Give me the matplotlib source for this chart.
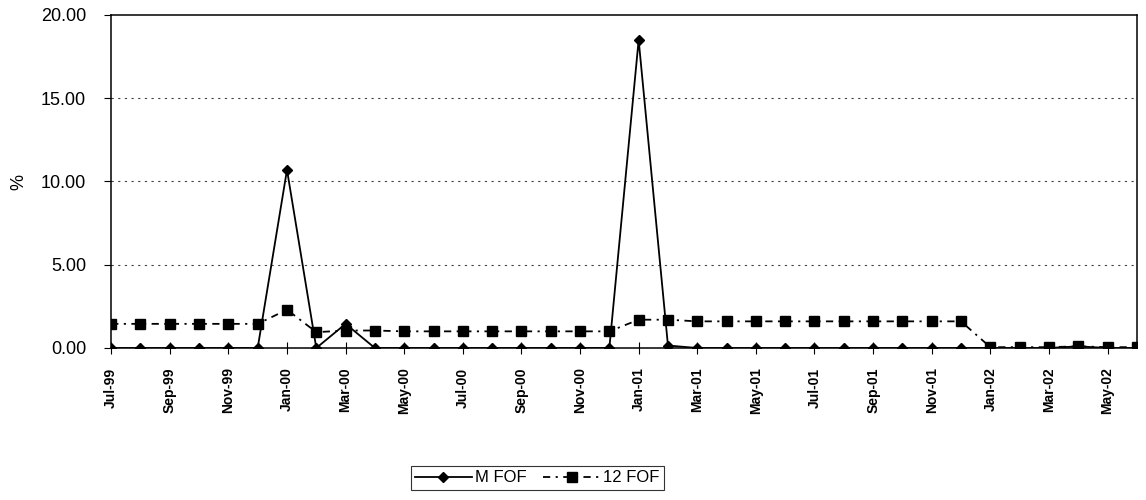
import numpy as np
import matplotlib
matplotlib.use("Agg")
import matplotlib.pyplot as plt
from matplotlib.ticker import FixedLocator, FormatStrFormatter

plt.rcParams['font.family'] = ['Liberation Sans', 'DejaVu Sans']

# Monthly observations, Jul-99 .. Jun-02
months = ["Jul-99", "Aug-99", "Sep-99", "Oct-99", "Nov-99", "Dec-99",
          "Jan-00", "Feb-00", "Mar-00", "Apr-00", "May-00", "Jun-00",
          "Jul-00", "Aug-00", "Sep-00", "Oct-00", "Nov-00", "Dec-00",
          "Jan-01", "Feb-01", "Mar-01", "Apr-01", "May-01", "Jun-01",
          "Jul-01", "Aug-01", "Sep-01", "Oct-01", "Nov-01", "Dec-01",
          "Jan-02", "Feb-02", "Mar-02", "Apr-02", "May-02", "Jun-02"]

m_fof = [0.0, 0.0, 0.0, 0.0, 0.0, 0.0,
         10.7, 0.0, 1.45, 0.0, 0.0, 0.0,
         0.0, 0.0, 0.0, 0.0, 0.0, 0.0,
         18.5, 0.15, 0.0, 0.0, 0.0, 0.0,
         0.0, 0.0, 0.0, 0.0, 0.0, 0.0,
         0.0, 0.0, 0.0, 0.1, 0.0, 0.0]

fof_12 = [1.45, 1.45, 1.45, 1.45, 1.45, 1.45,
          2.3, 0.95, 1.05, 1.05, 1.0, 1.0,
          1.0, 1.0, 1.0, 1.0, 1.0, 1.0,
          1.7, 1.7, 1.6, 1.6, 1.6, 1.6,
          1.6, 1.6, 1.6, 1.6, 1.6, 1.6,
          0.05, 0.05, 0.05, 0.1, 0.05, 0.05]

y_ticks = [0, 5, 10, 15, 20]

x = np.arange(len(months))

fig = plt.figure(figsize=(11.46, 5.0), dpi=100)
ax = fig.add_axes([0.097, 0.304, 0.895, 0.666])

ax.plot(x, m_fof, color="black", lw=1.3, marker="D", markersize=5.5,
        label="M FOF", zorder=3)
ax.plot(x, fof_12, color="black", lw=1.3, linestyle=(0, (4, 3, 1.2, 3)),
        marker="s", markersize=7, label="12 FOF", zorder=4)

ax.set_xlim(x[0], x[-1])
ax.set_ylim(y_ticks[0], y_ticks[-1])

ax.yaxis.set_major_locator(FixedLocator(y_ticks))
ax.yaxis.set_major_formatter(FormatStrFormatter("%.2f"))
ax.set_xticks(x[::2])
ax.set_xticklabels(months[::2], rotation=90, fontsize=10, fontweight="bold")
ax.tick_params(axis="x", direction="inout", length=8, width=0.8, pad=10)
ax.tick_params(axis="y", direction="out", length=5, width=0.8, labelsize=13, pad=13)

for v in y_ticks[1:-1]:
    ax.axhline(v, color="#444444", lw=0.8, linestyle=(0, (2, 4)), zorder=1)

for s in ax.spines.values():
    s.set_linewidth(1.1)
    s.set_color("black")

ax.set_ylabel("%", fontsize=13, labelpad=10)

leg = fig.legend(loc="center", bbox_to_anchor=(0.469, 0.044), ncol=2,
                 fontsize=12, frameon=True, fancybox=False, handlelength=3.4,
                 handletextpad=0.2, columnspacing=1.0, borderpad=0.25)
leg.get_frame().set_edgecolor("black")
leg.get_frame().set_linewidth(0.8)

fig.savefig("out.png", dpi=100)
